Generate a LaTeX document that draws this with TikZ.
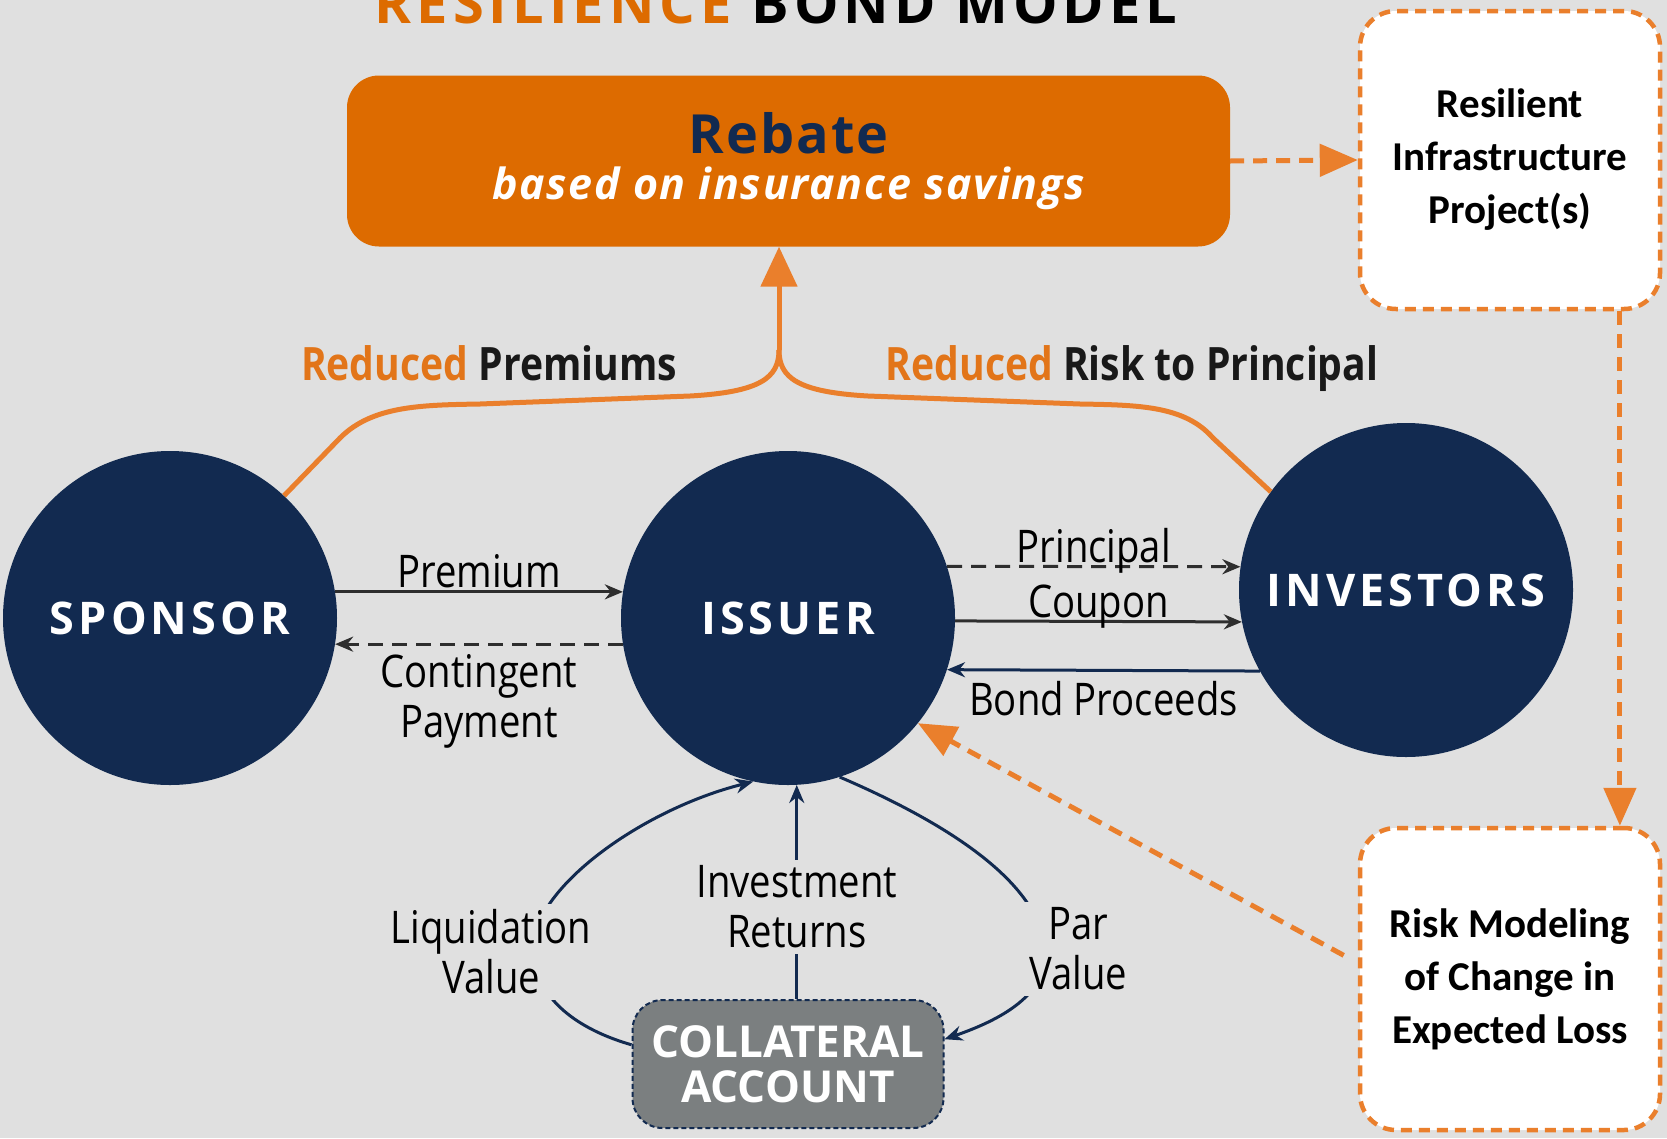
\documentclass[tikz,border=0pt]{standalone}
\usepackage{fontspec}
\usetikzlibrary{arrows.meta,calc}
\setmainfont{Open Sans}
\newfontfamily\condfont[FakeStretch=0.85]{Open Sans}
\newfontfamily\partyfont[LetterSpace=9]{Open Sans}
\newfontfamily\spacedfont[LetterSpace=4]{Open Sans}
\newfontfamily\calloutfont{Carlito}

\definecolor{bgray}{HTML}{E0E0E0}
\definecolor{navy}{HTML}{122A50}
\definecolor{rebateorange}{HTML}{DD6B00}
\definecolor{lineorange}{HTML}{EA7F2C}
\definecolor{gainorange}{HTML}{E27519}
\definecolor{vaultgray}{HTML}{7B7F80}
\definecolor{inkgray}{HTML}{2E2E2E}

\tikzset{
  party/.style={circle, fill=navy, minimum size=334pt, inner sep=0pt, text=white,
    font=\partyfont\bfseries\fontsize{45}{50}\selectfont},
  callout/.style={draw=lineorange, line width=4.5pt, dash pattern=on 11pt off 7pt,
    fill=white, rounded corners=36pt, minimum width=300pt, align=center,
    font=\calloutfont\bfseries\fontsize{41}{53}\selectfont},
  money/.style={draw=inkgray, line width=3pt, -{Stealth[length=18pt,width=15pt]}},
  owed/.style={money, dash pattern=on 15pt off 9pt},
  flow/.style={draw=navy, line width=3pt, -{Stealth[length=18pt,width=15pt]}},
  branch/.style={draw=lineorange, line width=5pt},
  hint/.style={draw=lineorange, line width=5pt, dash pattern=on 14pt off 9pt,
    -{Triangle[length=38pt,width=32pt]}},
  lbl/.style={font=\condfont\fontsize{45}{50}\selectfont, align=center, inner sep=0pt},
  lbltop/.style={lbl, anchor=base, yshift=4pt},
  lblbot/.style={lbl, anchor=north, yshift=-9pt},
  gain/.style={font=\condfont\bfseries\fontsize{46}{50}\selectfont, anchor=base, text=black!90}
}

\begin{document}
\begin{tikzpicture}[x=1pt,y=-1pt]
  \fill[bgray] (0,0) rectangle (1667,1138);
  \useasboundingbox (0,0) rectangle (1667,1138);

  \node[anchor=base, font=\partyfont\bfseries\fontsize{56}{60}\selectfont] (title) at (776,23)
    {\textcolor{rebateorange}{RESILIENCE} BOND MODEL};

  \node[rectangle, rounded corners=32pt, fill=rebateorange, minimum width=883pt,
    minimum height=171pt, align=center, font=\spacedfont\bfseries\fontsize{43}{46}\selectfont]
    (rebate) at (788.5,161)
    {\textcolor{navy}{\fontsize{54}{46}\selectfont Rebate}\\
     \textcolor{white}{\itshape based on insurance savings}};

  \node[callout, minimum height=298pt] (resilient) at (1510,160)
    {Resilient\\Infrastructure\\Project(s)};
  \node[callout, minimum height=302pt] (risk) at (1510,979)
    {Risk Modeling\\of Change in\\Expected Loss};

  \node[party] (sponsor) at (170,618) {SPONSOR};
  \node[party] (issuer) at (788,618) {ISSUER};
  \node[party] (investors) at (1406,590) {INVESTORS};

  \node[rectangle, rounded corners=30pt, fill=vaultgray, draw=navy, line width=2pt,
    dash pattern=on 5pt off 3pt, minimum width=311pt, minimum height=128pt,
    align=center, text=white, font=\bfseries\fontsize{44}{45}\selectfont]
    (collateral) at (788,1064) {COLLATERAL\\ACCOUNT};

  % savings go up to the rebate
  \coordinate (fork) at (779,350);
  \draw[branch] (sponsor.47) -- (340,438) .. controls (372,406) and (420,405) .. (480,404)
    -- (690,396) .. controls (760,392) and (779,378) .. (fork);
  \draw[branch] (investors.144) -- (1213,438) .. controls (1185,406) and (1140,405) .. (1080,404)
    -- (868,396) .. controls (798,392) and (779,378) .. (fork);
  \draw[branch, -{Triangle[length=40pt,width=36pt]}] (fork) -- (fork |- rebate.south);
  \node[gain] (premlbl) at (489,380) {\textcolor{gainorange}{Reduced} Premiums};
  \node[gain] (risklbl) at (1132,380) {\textcolor{gainorange}{Reduced} Risk to Principal};

  \draw[hint] (rebate.east) -- (resilient.west);
  \draw[hint] (resilient.-54) -- (resilient.-54 |- risk.north);
  \draw[hint, shorten <=16pt] (risk.174) -- (issuer.-39);

  % cash flows
  \draw[money] (sponsor.9) -- node[lbltop] (premiumlbl) {Premium} (issuer.171);
  \draw[owed] (issuer.189) -- node[lblbot] (contlbl) {Contingent\\Payment} (sponsor.-9);
  \draw[owed] (issuer.18) -- node[lbltop] (princlbl) {Principal} (investors.172);
  \draw[money] (issuer.-1) -- node[lbltop] (couponlbl) {Coupon} (investors.191);
  \draw[flow] (investors.209) -- node[lblbot] (proceedslbl) {Bond Proceeds} (issuer.-18.5);

  \draw[flow] (collateral.173) .. controls (580,1030) and (535,1000) .. (533,950)
    .. controls (531,890) and (640,810) .. (issuer.-102);
  \node[lbl, fill=bgray, inner sep=6pt] (liquidlbl) at (491,952) {Liquidation\\Value};
  \draw[flow] (collateral.north -| issuer.-87) -- node[lbl, fill=bgray, inner sep=6pt, pos=0.43]
    (investlbl) {Investment\\Returns} (issuer.-87);
  \draw[flow] (issuer.-72) .. controls (940,820) and (1040,880) .. (1045,950)
    .. controls (1048,995) and (1000,1020) .. (collateral.9);
  \node[lbl, fill=bgray, inner sep=6pt] (parlbl) at (1078,949) {Par\\Value};
\end{tikzpicture}
\end{document}
